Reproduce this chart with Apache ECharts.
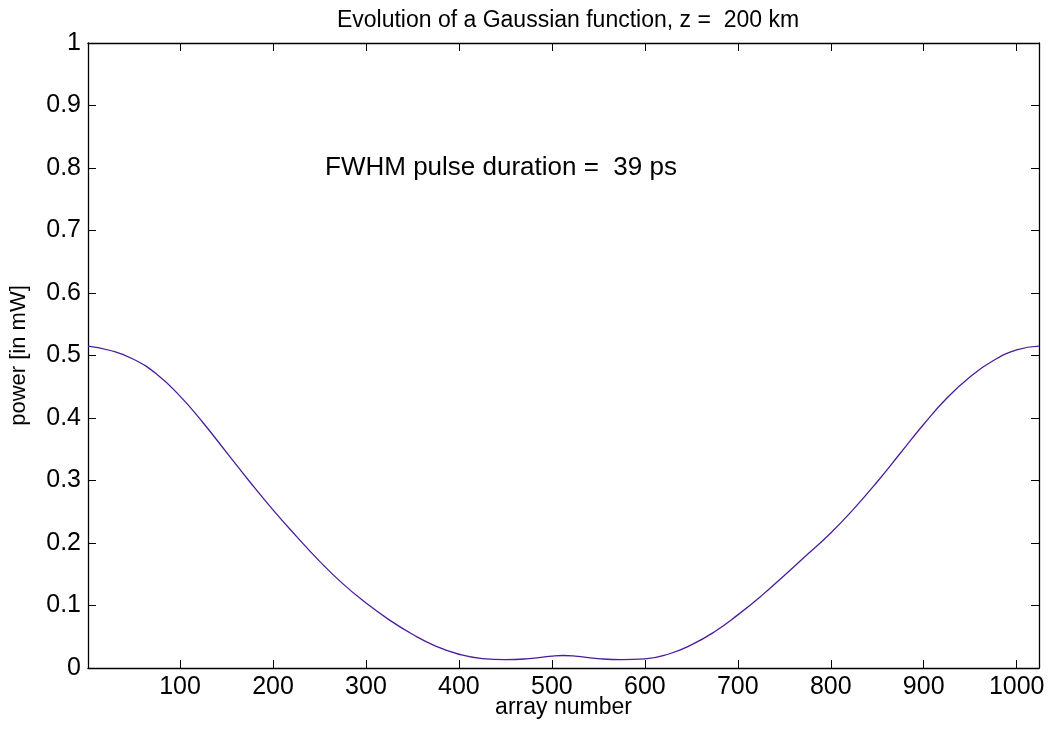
<!DOCTYPE html>
<html lang="en">
<head>
    <meta charset='utf-8' />
    <title>gaussian</title>
    <script src="https://cdn.jsdelivr.net/npm/echarts@6.0.0/dist/echarts.min.js"></script>
    <style>
        body { margin: 0; background: #fff; }
        #chart { width: 1060px; height: 731px; }
    </style>
</head>
<body>
<div id="chart"></div>
<script>
    // sample positions along the array and the power (mW)
    var arrayIdx = [1, 25, 50, 75, 100, 125, 150, 175, 200, 225, 250, 275, 300, 325, 350, 375, 400, 425, 450, 475, 500, 512,
        525, 550, 575, 600, 625, 650, 675, 700, 725, 750, 775, 800, 825, 850, 875, 900, 925, 950, 975, 1000, 1024];
    var power = [0.515, 0.508, 0.494, 0.470, 0.435, 0.392, 0.345, 0.298, 0.253, 0.211, 0.171, 0.135, 0.104, 0.077, 0.054, 0.035, 0.022, 0.015, 0.0133, 0.015, 0.019, 0.020,
        0.019, 0.015, 0.0133, 0.0145, 0.022, 0.037, 0.058, 0.085, 0.115, 0.148, 0.182, 0.216, 0.255, 0.298, 0.344, 0.390, 0.432, 0.466, 0.492, 0.509, 0.515];
    var xTicks = [100, 200, 300, 400, 500, 600, 700, 800, 900, 1000];
    var annotation = { x: 256, y: 0.8, text: 'FWHM pulse duration =  39 ps' };

    var font = 'Liberation Sans, Arial, Helvetica, sans-serif';
    var axisCol = '#000';

    var chart = echarts.init(document.getElementById('chart'));
    var points = arrayIdx.map(function (x, i) { return [x, power[i]]; });

    var option = {
        animation: false,
        textStyle: { fontFamily: font },
        title: {
            text: 'Evolution of a Gaussian function, z =  200 km',
            left: 563, top: 4, textAlign: 'center',
            textStyle: { fontFamily: font, fontSize: 23, fontWeight: 'normal', color: '#000' }
        },
        grid: { left: 87, right: 21, top: 43, bottom: 63 },
        xAxis: [{
            type: 'value', min: 1, max: 1024, position: 'bottom',
            name: 'array number', nameLocation: 'middle', nameGap: 28, nameMoveOverlap: false,
            nameTextStyle: { fontSize: 23, color: '#000', fontFamily: font, verticalAlign: 'top' },
            axisLine: { onZero: false, lineStyle: { color: axisCol, width: 1.3 } },
            axisTick: { inside: true, length: 8, customValues: xTicks, lineStyle: { color: axisCol } },
            axisLabel: { customValues: xTicks, fontSize: 25, color: '#000', margin: 7, fontFamily: font,
                formatter: function (v) { return String(v); } },
            splitLine: { show: false }
        }, {
            type: 'value', min: 1, max: 1024, position: 'top',
            axisLine: { onZero: false, lineStyle: { color: axisCol, width: 1.3 } },
            axisTick: { inside: true, length: 8, customValues: xTicks, lineStyle: { color: axisCol } },
            axisLabel: { show: false },
            splitLine: { show: false }
        }],
        yAxis: [{
            type: 'value', min: 0, max: 1, interval: 0.1, position: 'left',
            name: 'power [in mW]', nameLocation: 'middle', nameGap: 58,
            nameTextStyle: { fontSize: 22, color: '#000', fontFamily: font },
            axisLine: { show: true, onZero: false, lineStyle: { color: axisCol, width: 1.3 } },
            axisTick: { show: true, inside: true, length: 8, lineStyle: { color: axisCol } },
            axisLabel: { fontSize: 25, color: '#000', margin: 7, fontFamily: font },
            splitLine: { show: false }
        }, {
            type: 'value', min: 0, max: 1, interval: 0.1, position: 'right',
            axisLine: { show: true, onZero: false, lineStyle: { color: axisCol, width: 1.3 } },
            axisTick: { show: true, inside: true, length: 8, lineStyle: { color: axisCol } },
            axisLabel: { show: false },
            splitLine: { show: false }
        }],
        series: [{
            type: 'line',
            data: points,
            smooth: 0.5,
            showSymbol: false,
            lineStyle: { color: '#4b1c9b', width: 1.3 },
            markPoint: {
                symbol: 'circle', symbolSize: 0,
                data: [{ coord: [annotation.x, annotation.y] }],
                label: {
                    show: true, position: 'right', distance: 0,
                    formatter: annotation.text,
                    fontSize: 26, color: '#000', fontFamily: font
                }
            }
        }]
    };

    option && chart.setOption(option);
</script>
</body>
</html>
